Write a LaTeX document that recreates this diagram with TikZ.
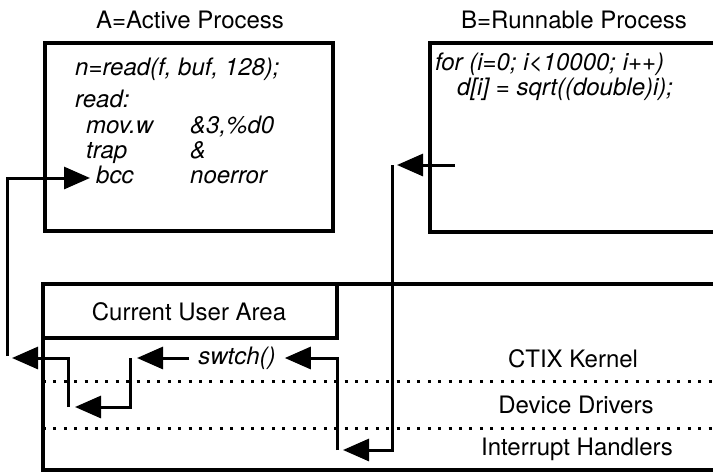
\documentclass[tikz,border=0pt]{standalone}
\usepackage{fontspec}
\setmainfont{TeX Gyre Heros}
\usetikzlibrary{arrows.meta}

\begin{document}
\begin{tikzpicture}[x=1pt, y=-1pt, line join=miter, font=\fontsize{24}{29}\selectfont,
	frame/.style={line width=4.4pt},
	link/.style={line width=3pt, -{Triangle[length=26pt,width=22pt]}},
	code/.style={font=\fontsize{24}{29}\selectfont\itshape, anchor=base west, inner sep=0pt},
	layer/.style={anchor=base, inner sep=0pt},
	dots/.style={line width=3pt, dash pattern=on 3pt off 7.4pt}]
	\useasboundingbox (0,0) rectangle (713,472);
	\clip (0,0) rectangle (713,472);
	\coordinate (A1) at (45,43);  \coordinate (A2) at (333,231);
	\coordinate (B1) at (430,43); \coordinate (B2) at (740,232);
	\coordinate (K1) at (43,284); \coordinate (K2) at (740,470);
	\coordinate (U2) at (337,338);
	\draw[frame] (A1) rectangle (A2);
	\draw[frame] (B1) rectangle (B2);
	\draw[frame] (K1) rectangle (K2);
	\draw[frame] (K1) rectangle (U2);
	\draw[dots] (43,381) -- (713,381);
	\draw[dots] (43,428) -- (713,428);
	\node[layer] (tA) at (190,28) {A=Active Process};
	\node[layer] (tB) at (574,28) {B=Runnable Process};
	\node[code] (c1) at (75,75) {n=read(f, buf, 128);};
	\node[code] (c2) at (75,107) {read:};
	\node[code] (c3) at (86,133) {mov.w};
	\node[code] (c4) at (190,133) {\&3,\%d0};
	\node[code] (c5) at (86,158) {trap};
	\node[code] (c6) at (190,158) {\&};
	\node[code] (c7) at (96,183) {bcc};
	\node[code] (c8) at (190,183) {noerror};
	\node[code] (d1) at (435,70) {for (i=0; i<10000; i++)};
	\node[code] (d2) at (457,95) {d[i] = sqrt((double)i);};
	\node[layer] (ua) at (189,320) {Current User Area};
	\node[layer] (kern) at (573,367) {CTIX Kernel};
	\node[layer] (drv) at (576,413) {Device Drivers};
	\node[layer] (irq) at (577,455) {Interrupt Handlers};
	\node[code, anchor=center, inner sep=9pt] (swtch) at (237,358) {swtch()};
	\coordinate (p0) at (455,165); \coordinate (p1) at (397,165);
	\coordinate (q0) at (392,165); \coordinate (q1) at (343,450);
	\coordinate (r0) at (337,450);
	\coordinate (s1) at (137,358);
	\coordinate (t0) at (130,358); \coordinate (t1) at (75,407);
	\coordinate (u0) at (68,407);  \coordinate (u1) at (12,358);
	\coordinate (v0) at (7,356);   \coordinate (v1) at (90,178);
	\draw[link] (p0) -- (p1);
	\draw[link] (q0) |- (q1);
	\draw[link] (r0) |- (swtch.east);
	\draw[link] (swtch.west) -- (s1);
	\draw[link] (t0) |- (t1);
	\draw[link] (u0) |- (u1);
	\draw[link] (v0) |- (v1);
\end{tikzpicture}
\end{document}
